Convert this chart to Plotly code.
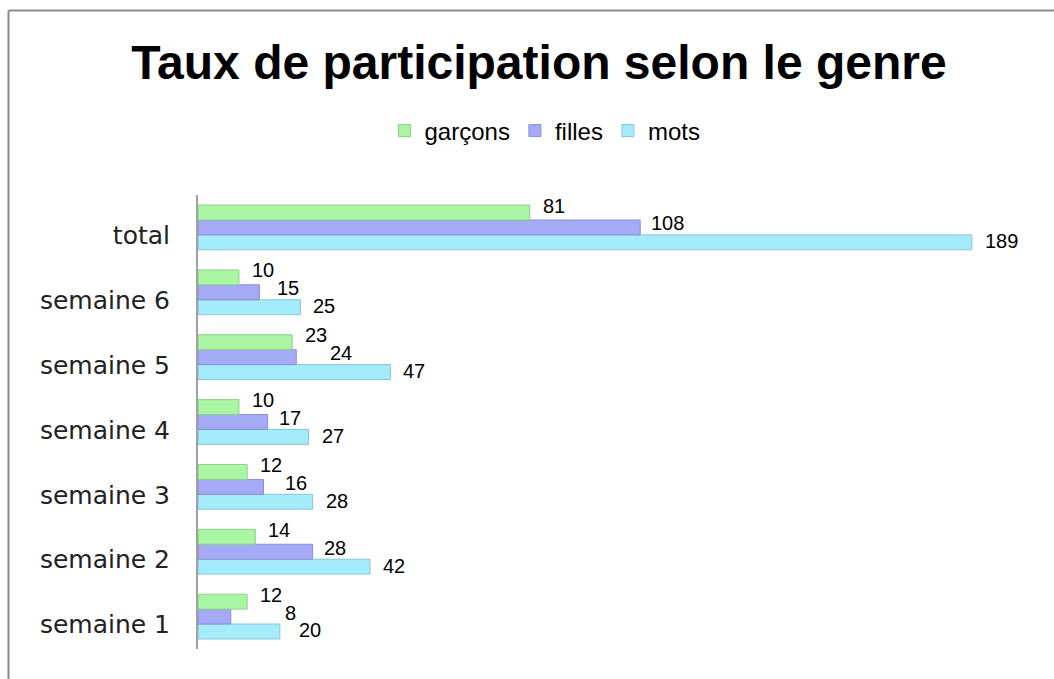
import plotly.graph_objects as go

categories = ["semaine 1", "semaine 2", "semaine 3", "semaine 4", "semaine 5", "semaine 6", "total"]
garcons = [12, 14, 12, 10, 23, 10, 81]
filles = [8, 28, 16, 17, 24, 15, 108]
mots = [20, 42, 28, 27, 47, 25, 189]

# drawn bottom to top inside each group; legend order is reversed below
series = [
    ("mots", mots, "#a4ecfb", "#86c6d5"),
    ("filles", filles, "#a5aaf7", "#8a8fd6"),
    ("garçons", garcons, "#a9f5a3", "#8bd386"),
]

W, H = 1054, 679
ML, MR, MT, MB = 198, 24, 195, 30
pw, ph = W - ML - MR, H - MT - MB
BARGAP = 0.31
LABEL_SIZE = 20
XMAX = 203.2


def px_to_paper(x, y):
    return (x - ML) / pw, (H - MB - y) / ph


fig = go.Figure()
for name, values, color, edge in series:
    fig.add_trace(
        go.Bar(
            y=categories,
            x=values,
            name=name,
            orientation="h",
            marker=dict(color=color, line=dict(color=edge, width=1)),
            hovertemplate="%{y}: %{x}<extra>" + name + "</extra>",
        )
    )

# value labels, nudged like the 3D excel chart and kept from colliding
px_per_unit = pw / XMAX
bar_px = ph / len(categories) * (1 - BARGAP) / len(series)
label_style = {
    "garçons": dict(gap=11, dy=bar_px + 7),
    "filles": dict(gap=9, dy=4),
    "mots": dict(gap=11, dy=-bar_px + 1),
}
annotations = []
for i, cat in enumerate(categories):
    prev_right = None
    for name, values, _, _ in reversed(series):
        v = values[i]
        style = label_style[name]
        start = v * px_per_unit + style["gap"]
        if prev_right is not None and start < prev_right + 3:
            start = prev_right + 3
        prev_right = start + len(str(v)) * 0.556 * LABEL_SIZE
        annotations.append(
            dict(
                x=v,
                y=cat,
                xref="x",
                yref="y",
                text=str(v),
                showarrow=False,
                xanchor="left",
                yanchor="middle",
                xshift=start - v * px_per_unit,
                yshift=style["dy"],
                font=dict(family="Liberation Sans, Arial", size=LABEL_SIZE, color="#000"),
            )
        )

x0, y0 = px_to_paper(8.5, 10.5)
x1, _ = px_to_paper(W + 5, 0)
_, y1 = px_to_paper(0, H + 5)

fig.update_layout(
    width=W,
    height=H,
    margin=dict(l=ML, r=MR, t=MT, b=MB),
    paper_bgcolor="white",
    plot_bgcolor="white",
    barmode="group",
    bargap=BARGAP,
    bargroupgap=0,
    title=dict(
        text="<b>Taux de participation selon le genre</b>",
        font=dict(family="Liberation Sans, Arial", size=48, color="#000"),
        x=539 / W,
        xref="container",
        xanchor="center",
        y=1 - 62 / H,
        yref="container",
        yanchor="middle",
    ),
    legend=dict(
        orientation="h",
        traceorder="reversed",
        x=(545 - ML) / pw,
        xanchor="center",
        y=(H - MB - 131) / ph,
        yanchor="middle",
        font=dict(family="Liberation Sans, Arial", size=24, color="#000"),
        itemwidth=30,
    ),
    xaxis=dict(
        range=[0, XMAX],
        visible=False,
        fixedrange=True,
    ),
    yaxis=dict(
        range=[-0.5, 6.5],
        showline=True,
        linecolor="#a0a0a0",
        linewidth=2,
        showgrid=False,
        ticks="",
        ticklabelstandoff=21,
        ticklabelshift=8,
        tickfont=dict(family="DejaVu Sans", size=25, color="#222"),
    ),
    annotations=annotations,
    shapes=[
        dict(type="line", xref="paper", yref="paper", x0=x0, y0=y0, x1=x1, y1=y0,
             line=dict(color="#8c8c8c", width=2)),
        dict(type="line", xref="paper", yref="paper", x0=x0, y0=y0, x1=x0, y1=y1,
             line=dict(color="#8c8c8c", width=2)),
    ],
)

fig.write_html(
    "out.html",
    config={"displayModeBar": False},
    post_script="document.body.style.margin='0';",
)
